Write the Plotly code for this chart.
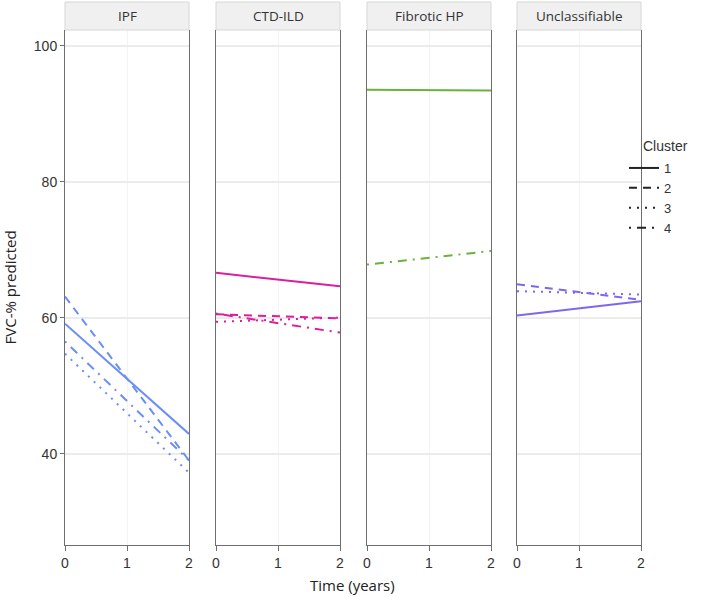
import plotly.graph_objects as go

# ---- data ----
time = [0, 2]
panels = ["IPF", "CTD-ILD", "Fibrotic HP", "Unclassifiable"]
clusters = ["1", "2", "3", "4"]

ipf = {"1": [59.1, 42.9], "2": [63.1, 39.0], "3": [54.7, 37.2], "4": [56.5, 39.0]}
ctd = {"1": [66.6, 64.6], "2": [60.5, 59.9], "3": [59.4, 60.0], "4": [60.6, 57.8]}
fhp = {"1": [93.5, 93.4], "4": [67.8, 69.8]}
unc = {"1": [60.3, 62.4], "2": [64.9, 62.6], "3": [63.9, 63.4]}
panel_data = [ipf, ctd, fhp, unc]

y_ticks = [40, 60, 80, 100]
x_ticks = [0, 1, 2]

# ---- styles ----
colors = ["#6B8FF2", "#DB1E9E", "#6AB23C", "#7B68EE"]
dashes = {"1": "solid", "2": "8px,6px", "3": "2px,6px", "4": "2px,6px,9px,6px"}

W, H = 709, 597
ml, mr, mt, mb = 65, 68, 30, 52
pw = W - ml - mr
ph = H - mt - mb
px_dom = [(0, 124), (151, 275), (302, 426), (452, 576)]

fig = go.Figure()
tick_font = dict(family="Liberation Sans, Arial, sans-serif", size=14, color="#333333")
title_font = dict(family="Open Sans, sans-serif", size=15, color="#222222")

for i, (name, data) in enumerate(zip(panels, panel_data)):
    ax = "" if i == 0 else str(i + 1)
    for c in clusters:
        if c in data:
            fig.add_trace(go.Scatter(
                x=time, y=data[c], mode="lines", showlegend=False,
                line=dict(color=colors[i], width=2, dash=dashes[c]),
                xaxis="x" + ax, yaxis="y" + ax, hoverinfo="skip"))
    d0, d1 = px_dom[i][0] / pw, px_dom[i][1] / pw
    fig.update_layout(**{
        "xaxis" + ax: dict(domain=[d0, d1], range=[0, 2], tickvals=x_ticks,
                           showline=True, linecolor="#6E6E6E", linewidth=1,
                           ticks="outside", ticklen=5, tickcolor="#6E6E6E",
                           showgrid=True, gridcolor="#F4F4F4", gridwidth=1,
                           zeroline=False, tickfont=tick_font,
                           anchor="y" + ax),
        "yaxis" + ax: dict(range=[26.57, 102.3], tickvals=y_ticks,
                           showline=True, mirror=True, linecolor="#6E6E6E", linewidth=1,
                           ticks="outside" if i == 0 else "", ticklen=4, tickcolor="#6E6E6E",
                           showticklabels=(i == 0),
                           showgrid=True, gridcolor="#ECECEC", gridwidth=1.5,
                           zeroline=False, tickfont=tick_font,
                           anchor="x" + ax,
                           **({} if i == 0 else {"matches": "y"})),
    })
    # strip
    fig.add_shape(type="rect", xref="paper", yref="paper",
                  x0=d0, x1=d1, y0=1, y1=1 + 28 / ph,
                  fillcolor="#EFF0EF", line=dict(color="#D5D8D5", width=1), layer="above")
    fig.add_annotation(text=name, xref="paper", yref="paper",
                       x=(d0 + d1) / 2, y=1 + 14 / ph, showarrow=False,
                       xanchor="center", yanchor="middle",
                       font=dict(family="Open Sans, sans-serif", size=13.5, color="#333333"))

# legend entries
for c in clusters:
    fig.add_trace(go.Scatter(x=[None], y=[None], mode="lines", name=c,
                             line=dict(color="#222222", width=2, dash=dashes[c]),
                             showlegend=True))

fig.add_annotation(text="FVC-% predicted", xref="paper", yref="paper",
                   x=-56 / pw, y=0.5, textangle=-90, showarrow=False,
                   xanchor="center", yanchor="middle", font=title_font)
fig.add_annotation(text="Time (years)", xref="paper", yref="paper",
                   x=(352 - ml) / pw, y=-40 / ph, showarrow=False,
                   xanchor="center", yanchor="middle", font=title_font)
fig.add_annotation(text="Cluster", xref="paper", yref="paper",
                   x=(641 - ml) / pw, y=1 - (146 - mt) / ph, showarrow=False,
                   xanchor="left", yanchor="middle",
                   font=dict(family="Liberation Sans, Arial", size=14, color="#333333"))

fig.update_layout(
    width=W, height=H,
    margin=dict(l=ml, r=mr, t=mt, b=mb),
    paper_bgcolor="white", plot_bgcolor="white",
    legend=dict(x=(624 - ml) / pw, y=1 - (153 - mt) / ph, xanchor="left", yanchor="top",
                font=dict(family="Liberation Sans, Arial", size=13, color="#333333"),
                tracegroupgap=0, itemwidth=30, bgcolor="rgba(0,0,0,0)"),
)

fig.write_html("out.html", config={"displayModeBar": False},
               post_script="document.body.style.margin='0';document.body.style.padding='0';")
